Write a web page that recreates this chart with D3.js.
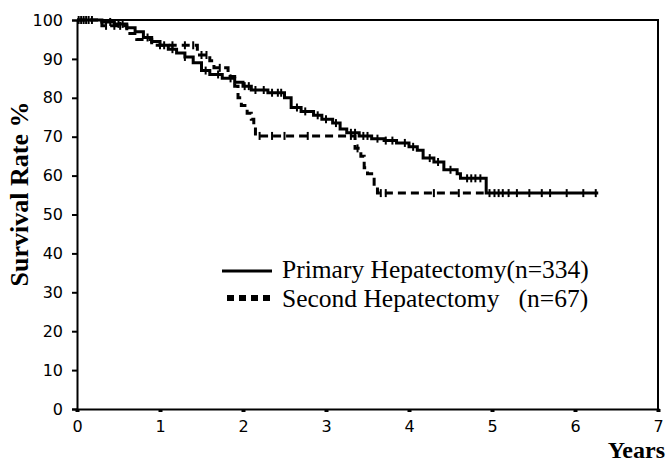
<!DOCTYPE html>
<html>
<head>
<meta charset="utf-8">
<script src="https://cdn.jsdelivr.net/npm/d3@7"></script>
<style>
  body { margin: 0; background: #fff; }
  svg { display: block; }
</style>
</head>
<body>
<div id="chart"></div>
<script>
const width = 666;
const height = 464;

// Kaplan-Meier steps (years, survival %)
const primaryTimes = [0, 0.3, 0.45, 0.6, 0.7, 0.8, 0.9, 1.0, 1.1, 1.2, 1.3, 1.4, 1.5, 1.6, 1.75, 1.9, 2.0, 2.1, 2.3, 2.5, 2.58, 2.7, 2.85, 2.95, 3.08, 3.17, 3.25, 3.4, 3.55, 3.7, 3.85, 4.0, 4.1, 4.17, 4.3, 4.42, 4.58, 4.62, 4.93, 6.28];
const primarySurv  = [100, 99.5, 99, 98, 97, 95.5, 94.5, 93.5, 92.5, 91.5, 90.5, 89, 87, 86, 85, 84, 83, 82, 81.3, 80, 77.5, 76.5, 75.5, 74.5, 73.5, 72, 71, 70.2, 69.5, 69, 68.4, 67.4, 66.5, 64.5, 63.5, 61.5, 60.5, 59.3, 55.5, 55.5];

const secondTimes = [0, 0.3, 0.6, 0.72, 0.9, 1.45, 1.6, 1.65, 1.82, 1.9, 1.94, 1.98, 2.05, 2.1, 2.13, 2.15, 3.35, 3.42, 3.46, 3.5, 3.55, 3.58, 3.62, 4.9];
const secondSurv  = [100, 98.5, 96.5, 95, 93.5, 91, 89.5, 87.7, 85.5, 83, 80, 78, 76, 74.5, 72.5, 70.2, 67, 65, 62, 60.5, 59.5, 57, 55.5, 55.5];

// censored observations (years)
const primaryCensor = [0.02, 0.05, 0.08, 0.11, 0.14, 0.18, 0.4, 0.5, 0.55, 0.85, 1.0, 1.15, 1.3, 1.55, 1.7, 1.85, 2.02, 2.07, 2.15, 2.25, 2.35, 2.42, 2.46, 2.65, 2.75, 2.9, 3.0, 3.12, 3.3, 3.35, 3.45, 3.5, 3.62, 3.72, 3.8, 3.95, 4.05, 4.25, 4.35, 4.5, 4.7, 4.75, 4.8, 4.86, 4.97, 5.03, 5.08, 5.13, 5.2, 5.3, 5.45, 5.6, 5.7, 5.9, 6.1, 6.25];
const secondCensor = [0.35, 0.45, 0.52, 1.05, 1.15, 1.3, 1.4, 1.5, 1.56, 1.72, 2.2, 2.35, 2.5, 2.78, 3.3, 3.38, 3.66, 3.72, 4.3, 4.6];

const xTicks = [0, 1, 2, 3, 4, 5, 6, 7];
const yTicks = [0, 10, 20, 30, 40, 50, 60, 70, 80, 90, 100];

const legendLabels = ["Primary Hepatectomy(n=334)", "Second Hepatectomy   (n=67)"];

const x = d3.scaleLinear().domain([0, 7]).range([77, 658]);
const y = d3.scaleLinear().domain([0, 100]).range([409, 20]);

const svg = d3.select("#chart")
  .append("svg")
  .attr("width", width)
  .attr("height", height);

// frame (top and right)
svg.append("path")
  .attr("d", `M${x(0)},${y(100)}H${x(7)}V${y(0)}`)
  .attr("fill", "none")
  .attr("stroke", "#000")
  .attr("stroke-width", 2);

// y axis
const yAxis = svg.append("g")
  .attr("transform", `translate(${x(0)},0)`)
  .call(d3.axisLeft(y).tickValues(yTicks).tickSize(5).tickPadding(9));
yAxis.select(".domain").attr("stroke-width", 2);
yAxis.selectAll(".tick line").attr("stroke-width", 2);
yAxis.selectAll("text")
  .attr("font-family", "DejaVu Sans, sans-serif")
  .attr("font-size", 16)
  .attr("fill", "#000");

// x axis
const xAxis = svg.append("g")
  .attr("transform", `translate(0,${y(0)})`)
  .call(d3.axisBottom(x).tickValues(xTicks).tickFormat(d3.format("d")).tickSize(3).tickPadding(9));
xAxis.select(".domain").attr("stroke-width", 2);
xAxis.selectAll(".tick line").attr("stroke-width", 4);
xAxis.selectAll("text")
  .attr("font-family", "DejaVu Sans, sans-serif")
  .attr("font-size", 16)
  .attr("fill", "#000");

// axis titles
svg.append("text")
  .attr("transform", `translate(28,194) rotate(-90)`)
  .attr("text-anchor", "middle")
  .attr("font-family", "Liberation Serif, Times New Roman, serif")
  .attr("font-weight", "bold")
  .attr("font-size", 26)
  .text("Survival Rate %");

svg.append("text")
  .attr("x", 665)
  .attr("y", 458)
  .attr("text-anchor", "end")
  .attr("font-family", "Liberation Serif, Times New Roman, serif")
  .attr("font-weight", "bold")
  .attr("font-size", 24)
  .text("Years");

// curves
const line = d3.line()
  .x(d => x(d[0]))
  .y(d => y(d[1]))
  .curve(d3.curveStepAfter);

const series = [
  { times: primaryTimes, surv: primarySurv, censor: primaryCensor, dash: null },
  { times: secondTimes, surv: secondSurv, censor: secondCensor, dash: "8,5" }
];

const bis = d3.bisector(d => d).right;

series.forEach(s => {
  const pts = s.times.map((t, i) => [t, s.surv[i]]);
  svg.append("path")
    .datum(pts)
    .attr("d", line)
    .attr("fill", "none")
    .attr("stroke", "#000")
    .attr("stroke-width", 3)
    .attr("stroke-dasharray", s.dash);

  const marks = s.censor.map(t => {
    const i = Math.max(0, bis(s.times, t) - 1);
    return [t, s.surv[i]];
  });
  svg.append("g")
    .selectAll("line")
    .data(marks)
    .join("line")
    .attr("x1", d => x(d[0]))
    .attr("x2", d => x(d[0]))
    .attr("y1", d => y(d[1]) - 4)
    .attr("y2", d => y(d[1]) + 4)
    .attr("stroke", "#000")
    .attr("stroke-width", 2);
});

// legend
const legend = svg.append("g");
legend.append("line")
  .attr("x1", 222).attr("x2", 272)
  .attr("y1", 271).attr("y2", 271)
  .attr("stroke", "#000")
  .attr("stroke-width", 3);
legend.append("line")
  .attr("x1", 227).attr("x2", 272)
  .attr("y1", 298).attr("y2", 298)
  .attr("stroke", "#000")
  .attr("stroke-width", 6)
  .attr("stroke-dasharray", "7,5");

legend.selectAll("text")
  .data(legendLabels)
  .join("text")
  .attr("x", 282)
  .attr("y", (d, i) => 278 + i * 29)
  .attr("font-family", "Liberation Serif, Times New Roman, serif")
  .attr("font-size", 25.5)
  .attr("xml:space", "preserve")
  .style("white-space", "pre")
  .text(d => d);
</script>
</body>
</html>
